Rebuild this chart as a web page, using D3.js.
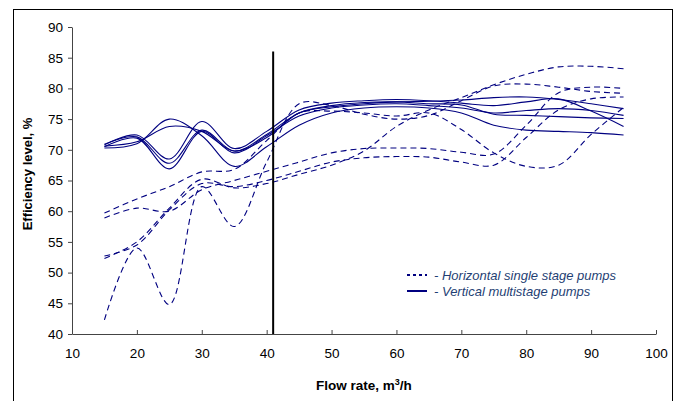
<!DOCTYPE html>
<html>
<head>
<meta charset="utf-8">
<script src="https://cdn.jsdelivr.net/npm/d3@7"></script>
<style>
  body { margin: 0; background: #fff; }
  svg { display: block; font-family: "Liberation Sans", Arial, sans-serif; }
</style>
</head>
<body>
<svg id="chart" width="675" height="401"></svg>
<script>
// flow rate points (m3/h)
const flow = [15, 20, 25, 30, 35, 40, 45, 50, 55, 60, 65, 70, 75, 80, 85, 90, 95];

// vertical multistage pumps (solid)
const vertical1 = [70.3, 71.0, 75.0, 72.3, 67.3, 70.5, 74.0, 76.0, 76.8, 77.0, 76.8, 76.0, 74.0, 73.2, 73.0, 72.8, 72.4];
const vertical2 = [70.6, 71.3, 73.8, 73.0, 69.8, 72.0, 76.0, 77.0, 77.5, 77.8, 77.9, 78.1, 78.5, 78.6, 78.2, 77.5, 76.7];
const vertical3 = [70.8, 72.4, 68.5, 74.6, 70.2, 73.0, 76.5, 77.6, 78.0, 78.2, 78.0, 77.6, 77.2, 77.8, 78.3, 76.3, 73.8];
const vertical4 = [70.9, 72.1, 67.8, 73.2, 69.8, 72.5, 76.0, 77.2, 77.7, 77.8, 77.5, 77.3, 75.8, 75.6, 75.4, 75.2, 75.1];
const vertical5 = [70.5, 71.9, 66.9, 73.0, 69.5, 72.3, 75.5, 76.8, 77.3, 77.5, 77.2, 76.8, 76.0, 76.4, 76.7, 76.4, 75.6];

// horizontal single stage pumps (dashed)
const horizontal1 = [42.3, 54.0, 44.8, 64.0, 57.5, 68.0, 77.5, 77.2, 75.8, 75.0, 75.6, 78.0, 80.4, 80.7, 80.2, 79.5, 79.2];
const horizontal2 = [59.7, 62.0, 64.0, 66.4, 66.8, 71.5, 76.0, 76.3, 76.0, 75.5, 76.0, 73.3, 69.5, 67.3, 67.5, 72.5, 76.9];
const horizontal3 = [58.9, 60.5, 60.0, 63.5, 65.0, 66.5, 68.0, 69.5, 70.2, 70.3, 70.2, 69.6, 69.3, 74.0, 79.3, 80.2, 80.0];
const horizontal4 = [52.7, 54.5, 60.2, 64.5, 64.0, 65.0, 66.5, 68.0, 68.7, 68.9, 68.8, 68.0, 67.5, 72.0, 76.5, 78.3, 78.6];
const horizontal5 = [52.3, 55.0, 60.5, 65.2, 63.8, 64.5, 66.0, 67.5, 69.8, 73.8, 76.5, 78.5, 80.6, 82.3, 83.5, 83.6, 83.2];

const verticalSeries = [vertical1, vertical2, vertical3, vertical4, vertical5];
const horizontalSeries = [horizontal1, horizontal2, horizontal3, horizontal4, horizontal5];

const xTicks = [10, 20, 30, 40, 50, 60, 70, 80, 90, 100];
const yTicks = [40, 45, 50, 55, 60, 65, 70, 75, 80, 85, 90];
const markerFlow = 41;
const markerTop = 86;

const legendLabels = ["- Horizontal single stage pumps", "- Vertical multistage pumps"];

const svg = d3.select("#chart");
const lineColor = "#000080";

// outer frame
svg.append("rect")
    .attr("x", 13.5).attr("y", 9.5)
    .attr("width", 659).attr("height", 400)
    .attr("fill", "none")
    .attr("stroke", "#000")
    .attr("stroke-width", 1);

const margin = { left: 72, top: 27, right: 20, bottom: 67 };
const width = 656 - margin.left;
const height = 334 - margin.top;

const g = svg.append("g").attr("transform", `translate(${margin.left},${margin.top})`);

const x = d3.scaleLinear().domain([10, 100]).range([0, width]);
const y = d3.scaleLinear().domain([40, 90]).range([height, 0]);

// axes
const yAxis = g.append("g")
    .call(d3.axisLeft(y).tickValues(yTicks).tickSize(4).tickSizeOuter(0).tickPadding(5));
const xAxis = g.append("g")
    .attr("transform", `translate(0,${height})`)
    .call(d3.axisBottom(x).tickValues(xTicks).tickSize(-4).tickSizeOuter(0).tickPadding(14));

[xAxis, yAxis].forEach(a => {
    a.select(".domain").attr("stroke", "#444");
    a.selectAll(".tick line").attr("stroke", "#444");
    a.selectAll(".tick text")
        .attr("fill", "#000")
        .style("font-size", "13.5px")
        .style("font-family", "Liberation Sans, Arial, sans-serif");
});

// curves
const line = d3.line()
    .x((d, i) => x(flow[i]))
    .y(d => y(d))
    .curve(d3.curveCatmullRom.alpha(0.5));

g.selectAll(".horizontal")
    .data(horizontalSeries)
    .enter()
    .append("path")
    .attr("class", "horizontal")
    .attr("d", line)
    .attr("fill", "none")
    .attr("stroke", lineColor)
    .attr("stroke-width", 1.1)
    .attr("stroke-dasharray", "6,4");

g.selectAll(".vertical")
    .data(verticalSeries)
    .enter()
    .append("path")
    .attr("class", "vertical")
    .attr("d", line)
    .attr("fill", "none")
    .attr("stroke", lineColor)
    .attr("stroke-width", 1.1);

// marker line at 41 m3/h
g.append("line")
    .attr("x1", x(markerFlow)).attr("x2", x(markerFlow))
    .attr("y1", y(markerTop)).attr("y2", y(40))
    .attr("stroke", "#000")
    .attr("stroke-width", 2);

// legend
const legend = svg.append("g").attr("transform", "translate(407,275)");
legendLabels.forEach((label, i) => {
    const row = legend.append("g").attr("transform", `translate(0,${i * 16})`);
    row.append("line")
        .attr("x1", 0).attr("x2", 20)
        .attr("y1", 0).attr("y2", 0)
        .attr("stroke", lineColor)
        .attr("stroke-width", 2)
        .attr("stroke-dasharray", i === 0 ? "3,3" : null);
    row.append("text")
        .attr("x", 27).attr("y", 4.5)
        .attr("fill", "#1f3f74")
        .style("font-size", "13px")
        .style("font-style", "italic")
        .text(label);
});

// axis titles
svg.append("text")
    .attr("transform", "translate(32,174) rotate(-90)")
    .attr("text-anchor", "middle")
    .style("font-size", "13px")
    .style("font-weight", "bold")
    .text("Efficiency level, %");

const xTitle = svg.append("text")
    .attr("x", 316)
    .attr("y", 390)
    .style("font-size", "13.5px")
    .style("font-weight", "bold");
xTitle.append("tspan").text("Flow rate, m");
xTitle.append("tspan").attr("dy", -5).style("font-size", "9px").text("3");
xTitle.append("tspan").attr("dy", 5).text("/h");
</script>
</body>
</html>
